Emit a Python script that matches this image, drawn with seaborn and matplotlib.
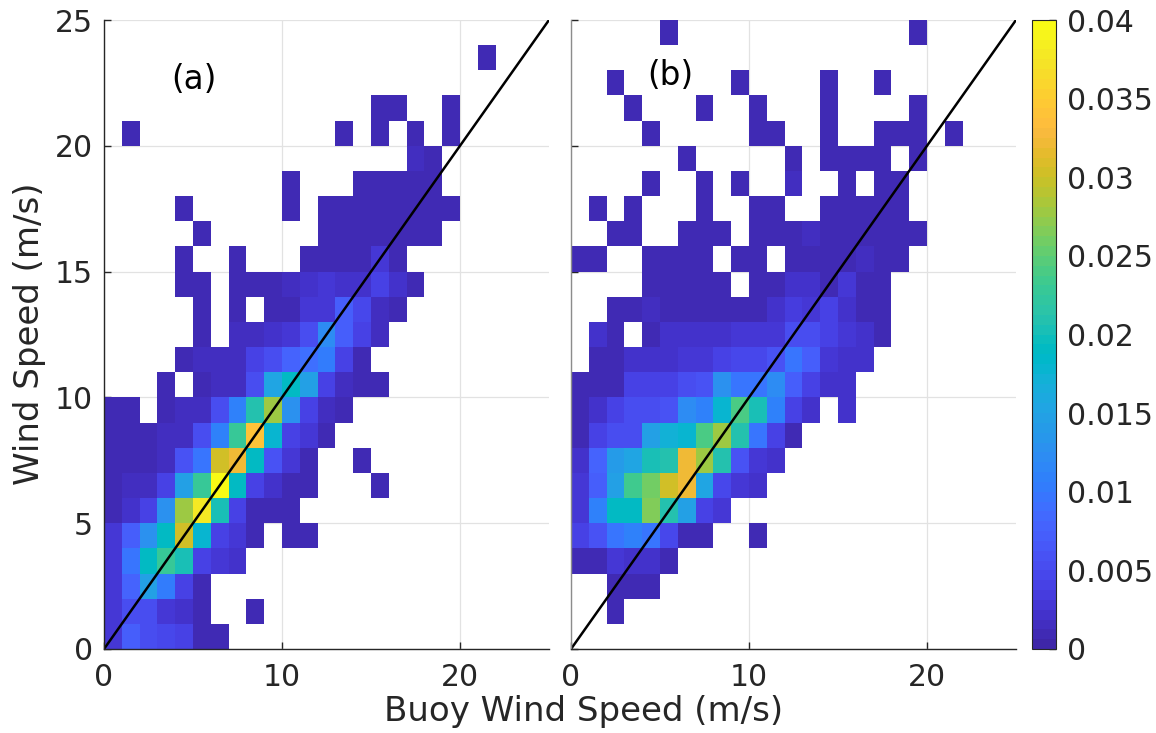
import numpy as np
import pandas as pd
import matplotlib
matplotlib.use("Agg")
import matplotlib.pyplot as plt
import seaborn as sns
from matplotlib.colors import ListedColormap

# MATLAB parula (64 levels)
PARULA = [
    [0.2422, 0.1504, 0.6603], [0.2504, 0.1650, 0.7076], [0.2578, 0.1818, 0.7511], [0.2647, 0.1978, 0.7952],
    [0.2706, 0.2147, 0.8364], [0.2751, 0.2342, 0.8710], [0.2783, 0.2559, 0.8991], [0.2803, 0.2782, 0.9221],
    [0.2813, 0.3006, 0.9414], [0.2810, 0.3228, 0.9579], [0.2795, 0.3447, 0.9717], [0.2760, 0.3667, 0.9829],
    [0.2699, 0.3892, 0.9906], [0.2602, 0.4123, 0.9952], [0.2440, 0.4358, 0.9988], [0.2206, 0.4603, 0.9973],
    [0.1963, 0.4847, 0.9892], [0.1834, 0.5074, 0.9798], [0.1786, 0.5289, 0.9682], [0.1764, 0.5499, 0.9520],
    [0.1687, 0.5703, 0.9359], [0.1540, 0.5902, 0.9218], [0.1460, 0.6091, 0.9079], [0.1380, 0.6276, 0.8973],
    [0.1248, 0.6459, 0.8883], [0.1113, 0.6635, 0.8763], [0.0952, 0.6798, 0.8598], [0.0689, 0.6948, 0.8394],
    [0.0297, 0.7082, 0.8163], [0.0036, 0.7203, 0.7917], [0.0067, 0.7312, 0.7660], [0.0433, 0.7411, 0.7394],
    [0.0964, 0.7500, 0.7120], [0.1408, 0.7584, 0.6842], [0.1717, 0.7670, 0.6554], [0.1938, 0.7758, 0.6251],
    [0.2161, 0.7843, 0.5923], [0.2470, 0.7918, 0.5567], [0.2906, 0.7973, 0.5188], [0.3406, 0.8008, 0.4789],
    [0.3909, 0.8029, 0.4354], [0.4456, 0.8024, 0.3909], [0.5044, 0.7993, 0.3480], [0.5616, 0.7942, 0.3045],
    [0.6174, 0.7876, 0.2612], [0.6720, 0.7793, 0.2227], [0.7242, 0.7698, 0.1910], [0.7738, 0.7598, 0.1646],
    [0.8203, 0.7498, 0.1535], [0.8634, 0.7406, 0.1596], [0.9035, 0.7330, 0.1774], [0.9393, 0.7288, 0.2100],
    [0.9728, 0.7298, 0.2394], [0.9956, 0.7434, 0.2371], [0.9970, 0.7659, 0.2199], [0.9952, 0.7893, 0.2028],
    [0.9892, 0.8136, 0.1885], [0.9786, 0.8386, 0.1766], [0.9676, 0.8639, 0.1643], [0.9610, 0.8890, 0.1537],
    [0.9597, 0.9135, 0.1423], [0.9628, 0.9373, 0.1265], [0.9691, 0.9606, 0.1064], [0.9769, 0.9839, 0.0805],
]

# Bin values (in units of 1e-3), one row per 1 m/s wind-speed bin (row 0 = 0-1 m/s),
# columns = buoy wind speed bins 0-1 ... 24-25 m/s.  0 = empty bin.
SCALE = 1e-3
panel_a_rows = [
    [3, 7, 5, 4.5, 4, 1, 1, 0, 0, 0, 0, 0, 0, 0, 0, 0, 0, 0, 0, 0, 0, 0, 0, 0, 0],
    [3, 5.5, 5.5, 3, 2, 1, 0, 0, 1, 0, 0, 0, 0, 0, 0, 0, 0, 0, 0, 0, 0, 0, 0, 0, 0],
    [3, 7.5, 14.5, 10, 4, 1, 0, 0, 0, 0, 0, 0, 0, 0, 0, 0, 0, 0, 0, 0, 0, 0, 0, 0, 0],
    [2.5, 9.5, 19, 23, 20, 4, 3, 2, 0, 0, 0, 0, 0, 0, 0, 0, 0, 0, 0, 0, 0, 0, 0, 0, 0],
    [2.5, 7, 12.5, 19, 30, 18, 4, 3, 1, 0, 1, 1, 0, 0, 0, 0, 0, 0, 0, 0, 0, 0, 0, 0, 0],
    [1, 2, 4, 12.5, 28, 38, 20, 4, 1, 1, 1, 0, 0, 0, 0, 0, 0, 0, 0, 0, 0, 0, 0, 0, 0],
    [1, 1.5, 1.5, 4, 14.5, 23, 40, 19, 4, 2, 1, 1, 0, 0, 0, 1, 0, 0, 0, 0, 0, 0, 0, 0, 0],
    [1, 1, 1, 1.5, 6, 9.5, 30, 32, 19, 6, 3, 1, 0, 0, 1, 0, 0, 0, 0, 0, 0, 0, 0, 0, 0],
    [1, 1, 1, 1.5, 1.5, 5, 11, 23, 34, 18, 4, 2.5, 1, 0, 0, 0, 0, 0, 0, 0, 0, 0, 0, 0, 0],
    [1, 1, 0, 1, 1.5, 1.5, 5, 11, 21, 28, 12.5, 4, 1.5, 1, 0, 0, 0, 0, 0, 0, 0, 0, 0, 0, 0],
    [0, 0, 0, 1, 0, 1, 1.5, 1.5, 5, 15, 19, 14.5, 4, 1.5, 1, 1, 0, 0, 0, 0, 0, 0, 0, 0, 0],
    [0, 0, 0, 0, 1, 1.5, 1.5, 1.5, 4, 5.5, 7.5, 9, 10, 4, 1, 0, 0, 0, 0, 0, 0, 0, 0, 0, 0],
    [0, 0, 0, 0, 0, 1, 0, 1.5, 1.5, 2, 3, 5.5, 12, 7, 4, 1.5, 0, 0, 0, 0, 0, 0, 0, 0, 0],
    [0, 0, 0, 0, 0, 1, 0, 1, 0, 1, 1, 3, 3, 7, 4.5, 1.5, 1, 0, 0, 0, 0, 0, 0, 0, 0],
    [0, 0, 0, 0, 1, 1, 0, 1, 1, 1, 1.5, 2, 2.5, 2, 2, 4, 2, 1, 0, 0, 0, 0, 0, 0, 0],
    [0, 0, 0, 0, 1, 0, 0, 1, 0, 0, 0, 1, 1, 1, 1, 2.5, 1, 0, 0, 0, 0, 0, 0, 0, 0],
    [0, 0, 0, 0, 0, 1, 0, 0, 0, 0, 0, 0, 1, 1, 1, 1, 1, 1, 1, 0, 0, 0, 0, 0, 0],
    [0, 0, 0, 0, 1, 0, 0, 0, 0, 0, 1, 0, 1, 1, 1, 1, 1, 1, 1, 1, 0, 0, 0, 0, 0],
    [0, 0, 0, 0, 0, 0, 0, 0, 0, 0, 1, 0, 0, 0, 1, 1, 1, 1, 1, 0, 0, 0, 0, 0, 0],
    [0, 0, 0, 0, 0, 0, 0, 0, 0, 0, 0, 0, 0, 0, 0, 0, 0, 1.5, 1, 0, 0, 0, 0, 0, 0],
    [0, 1, 0, 0, 0, 0, 0, 0, 0, 0, 0, 0, 0, 1, 0, 1, 0, 1, 0, 1, 0, 0, 0, 0, 0],
    [0, 0, 0, 0, 0, 0, 0, 0, 0, 0, 0, 0, 0, 0, 0, 1, 1, 0, 0, 1, 0, 0, 0, 0, 0],
    [0, 0, 0, 0, 0, 0, 0, 0, 0, 0, 0, 0, 0, 0, 0, 0, 0, 0, 0, 0, 0, 0, 0, 0, 0],
    [0, 0, 0, 0, 0, 0, 0, 0, 0, 0, 0, 0, 0, 0, 0, 0, 0, 0, 0, 0, 0, 1, 0, 0, 0],
    [0, 0, 0, 0, 0, 0, 0, 0, 0, 0, 0, 0, 0, 0, 0, 0, 0, 0, 0, 0, 0, 0, 0, 0, 0],
]
panel_b_rows = [
    [0, 0, 0, 0, 0, 0, 0, 0, 0, 0, 0, 0, 0, 0, 0, 0, 0, 0, 0, 0, 0, 0, 0, 0, 0],
    [0, 0, 1, 0, 0, 0, 0, 0, 0, 0, 0, 0, 0, 0, 0, 0, 0, 0, 0, 0, 0, 0, 0, 0, 0],
    [0, 0, 1, 1, 1, 0, 0, 0, 0, 0, 0, 0, 0, 0, 0, 0, 0, 0, 0, 0, 0, 0, 0, 0, 0],
    [1, 1, 3, 2, 2, 1, 0, 0, 0, 0, 0, 0, 0, 0, 0, 0, 0, 0, 0, 0, 0, 0, 0, 0, 0],
    [4, 6, 9.5, 11, 9.5, 4.5, 1, 1, 0, 0, 1, 0, 0, 0, 0, 0, 0, 0, 0, 0, 0, 0, 0, 0, 0],
    [3, 11, 19, 19, 26.5, 21, 14.5, 4, 3, 0, 0, 0, 0, 0, 0, 0, 0, 0, 0, 0, 0, 0, 0, 0, 0],
    [3, 7, 14.5, 23.5, 26, 30, 32, 15, 4.5, 3, 2, 0, 0, 0, 0, 0, 0, 0, 0, 0, 0, 0, 0, 0, 0],
    [2, 8, 14, 15, 20, 21, 32, 27.5, 21, 6, 3, 2, 0, 0, 0, 0, 0, 0, 0, 0, 0, 0, 0, 0, 0],
    [1, 4, 5, 5, 14.5, 17, 18, 24, 28, 21, 9.5, 4, 1, 0, 0, 0, 0, 0, 0, 0, 0, 0, 0, 0, 0],
    [1, 2, 4, 5, 5, 6, 12, 11, 18, 24, 20, 11, 4, 2, 0, 2, 0, 0, 0, 0, 0, 0, 0, 0, 0],
    [1, 1, 1, 4, 4, 4, 5, 6, 12.5, 9.5, 9.5, 12, 7, 4, 2, 2, 0, 0, 0, 0, 0, 0, 0, 0, 0],
    [0, 1, 1, 2, 2, 2, 3, 3, 4, 4.5, 4.5, 6, 9.5, 7, 3, 2, 2, 0, 0, 0, 0, 0, 0, 0, 0],
    [0, 2, 1, 0, 1, 2, 2, 2, 2, 3, 3, 3, 5, 5, 4, 2.5, 2, 1, 0, 0, 0, 0, 0, 0, 0],
    [0, 0, 1, 1, 1.5, 1, 1, 1, 1, 1, 1, 2, 3.5, 3, 4, 2, 1, 1, 0, 0, 0, 0, 0, 0, 0],
    [0, 0, 0, 0, 1, 1, 1, 1, 1, 0, 1, 1, 2, 2, 1, 2.5, 1, 1, 0, 0, 0, 0, 0, 0, 0],
    [1, 1, 0, 0, 1, 1, 1, 1, 0, 1, 1, 0, 1, 1, 1, 1, 1.5, 1, 1, 0, 0, 0, 0, 0, 0],
    [0, 0, 1, 1, 0, 0, 1, 1, 1, 0, 1, 1, 1, 1.5, 1, 1, 1, 1, 1, 1, 0, 0, 0, 0, 0],
    [0, 1, 0, 1, 0, 0, 0, 1, 0, 0, 1, 1, 0, 0, 1, 1, 1, 1, 1, 0, 0, 0, 0, 0, 0],
    [0, 0, 0, 0, 1, 0, 0, 1, 0, 1, 0, 0, 1.5, 0, 0, 1, 0, 1, 1, 0, 0, 0, 0, 0, 0],
    [0, 0, 0, 0, 0, 0, 1, 0, 0, 0, 0, 0, 1, 0, 1, 1, 1, 1, 0, 1, 0, 0, 0, 0, 0],
    [0, 0, 0, 0, 1, 0, 0, 0, 0, 0, 1, 1, 0, 0, 1, 0, 0, 1, 1, 1, 0, 1, 0, 0, 0],
    [0, 0, 0, 1, 0, 0, 0, 1, 0, 0, 1, 0, 0, 0, 1, 0, 0, 0, 0, 1, 0, 0, 0, 0, 0],
    [0, 0, 1, 0, 0, 0, 0, 0, 0, 1, 0, 0, 0, 0, 1, 0, 0, 1, 0, 0, 0, 0, 0, 0, 0],
    [0, 0, 0, 0, 0, 0, 0, 0, 0, 0, 0, 0, 0, 0, 0, 0, 0, 0, 0, 0, 0, 0, 0, 0, 0],
    [0, 0, 0, 0, 0, 1, 0, 0, 0, 0, 0, 0, 0, 0, 0, 0, 0, 0, 0, 1, 0, 0, 0, 0, 0],
]

panel_labels = ["(a)", "(b)"]
x_ticks = [0, 10, 20]
y_ticks = [0, 5, 10, 15, 20, 25]
cbar_ticks = [0, 0.005, 0.01, 0.015, 0.02, 0.025, 0.03, 0.035, 0.04]
cbar_ticklabels = ["0", "0.005", "0.01", "0.015", "0.02", "0.025", "0.03", "0.035", "0.04"]
x_label = "Buoy Wind Speed (m/s)"
y_label = "Wind Speed (m/s)"

sns.set_theme(style="white")
plt.rcParams['font.family'] = ['DejaVu Sans']

cmap = ListedColormap(PARULA)
W, H = 1156, 733
fig = plt.figure(figsize=(W / 100, H / 100), dpi=100)
fig.patch.set_facecolor("white")

def fx(px):
    return px / W

def fy(py):
    return 1 - py / H

ax_a = fig.add_axes([fx(104), fy(649), fx(549) - fx(104), fy(20) - fy(649)])
ax_b = fig.add_axes([fx(571), fy(649), fx(1016) - fx(571), fy(20) - fy(649)])
cax = fig.add_axes([fx(1032), fy(649), fx(1056) - fx(1032), fy(20) - fy(649)])

TXT = "#262626"
TICK_FS = 21.5

for k, (ax, rows) in enumerate([(ax_a, panel_a_rows), (ax_b, panel_b_rows)]):
    data = np.array(rows, dtype=float) * SCALE
    df = pd.DataFrame(data)
    sns.heatmap(df, ax=ax, cmap=cmap, vmin=0, vmax=0.04, mask=(data == 0),
                cbar=(k == 1), cbar_ax=(cax if k == 1 else None),
                xticklabels=False, yticklabels=False, linewidths=0)
    ax.set_xlim(0, 25)
    ax.set_ylim(0, 25)
    ax.set_facecolor("white")
    ax.set_axisbelow(True)
    ax.grid(True, color="#e2e2e2", linewidth=0.9)
    ax.set_xticks(x_ticks)
    ax.set_xticklabels([str(t) for t in x_ticks], fontsize=TICK_FS, color=TXT)
    ax.set_yticks(y_ticks)
    if k == 0:
        ax.set_yticklabels([str(t) for t in y_ticks], fontsize=TICK_FS, color=TXT)
    else:
        ax.set_yticklabels([])
    ax.tick_params(axis="both", direction="in", length=5, width=1, colors=TXT,
                   labelcolor=TXT, left=True, bottom=True)
    ax.tick_params(axis="x", pad=10)
    ax.tick_params(axis="y", pad=8)
    ax.axline((0, 0), slope=1, color="black", linewidth=1.8, zorder=4)
    for s in ["top", "right"]:
        ax.spines[s].set_visible(False)
    ax.spines["bottom"].set_visible(True)
    ax.spines["bottom"].set_color(TXT)
    ax.spines["bottom"].set_linewidth(1.0)
    ax.spines["left"].set_visible(True)
    ax.spines["left"].set_linewidth(1.0)
    ax.spines["left"].set_color(TXT if k == 0 else "#8c8c8c")
    ax.spines["bottom"].set_zorder(5)
    ax.spines["left"].set_zorder(5)

ax_a.text(5.05, 22.65, panel_labels[0], ha="center", va="center", fontsize=23.5, color="black")
ax_b.text(5.6, 22.8, panel_labels[1], ha="center", va="center", fontsize=23.5, color="black")

cbar = ax_b.collections[0].colorbar
cbar.set_ticks(cbar_ticks)
cbar.set_ticklabels(cbar_ticklabels)
cax.tick_params(direction="in", length=5, width=1, colors=TXT, labelsize=TICK_FS, pad=8)
cbar.outline.set_edgecolor(TXT)
cbar.outline.set_linewidth(0.8)

fig.text(fx(584), fy(711), x_label, ha="center", va="center", fontsize=24.5, color=TXT)
fig.text(fx(30), fy(334), y_label, ha="center", va="center", rotation=90, fontsize=24.5, color=TXT)

fig.savefig("out.png", dpi=100, facecolor="white")
